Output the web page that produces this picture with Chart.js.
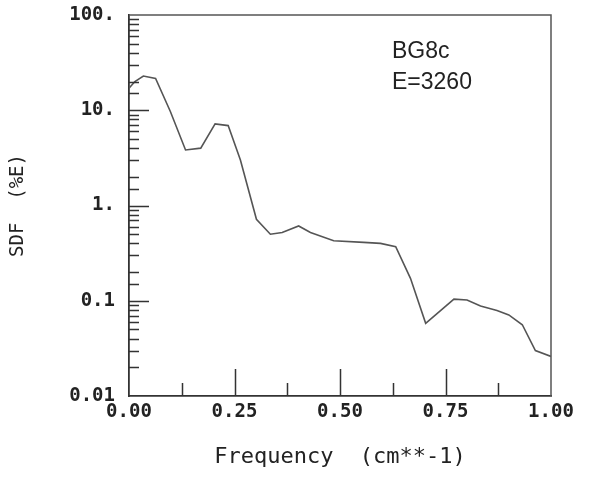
<!DOCTYPE html>
<html lang="en">
<head>
    <meta charset="UTF-8">
    <title>SDF BG8c</title>
    <script src="https://cdn.jsdelivr.net/npm/chart.js"></script>
    <style>
        body { margin: 0; padding: 0; background: #fff; }
        canvas { display: block; }
    </style>
</head>
<body>
    <canvas id="sdfChart" width="595" height="477"></canvas>
    <script>
    // values
    const freq = [0, 0.014, 0.034, 0.063, 0.098, 0.134, 0.170, 0.204, 0.235, 0.264, 0.302, 0.335, 0.363, 0.402,
                  0.430, 0.485, 0.556, 0.596, 0.632, 0.667, 0.703, 0.770, 0.801, 0.833, 0.872, 0.900, 0.932, 0.963, 1.0];
    const sdf = [17.0, 20, 22.9, 21.6, 9.7, 3.83, 4.0, 7.2, 6.9, 3.0, 0.716, 0.50, 0.52, 0.61,
                 0.52, 0.427, 0.41, 0.40, 0.37, 0.172, 0.058, 0.104, 0.102, 0.088, 0.079, 0.071, 0.056, 0.030, 0.026];

    const xTickValues = [0, 0.25, 0.5, 0.75, 1.0];
    const xTickLabels = ["0.00", "0.25", "0.50", "0.75", "1.00"];
    const yTickValues = [0.01, 0.1, 1, 10, 100];
    const yTickLabels = ["0.01", "0.1", "1.", "10.", "100."];
    const annotation = ["BG8c", "E=3260"];

    const monoFont = "'DejaVu Sans Mono', 'Liberation Mono', monospace";
    const axisColor = "#333";

    function isDecade(v) {
        const l = Math.log10(v);
        return Math.abs(l - Math.round(l)) < 1e-6;
    }

    // box, inward tick marks and the BG8c note
    const framePlugin = {
        id: "frame",
        afterDraw(chart) {
            const ctx = chart.ctx;
            const a = chart.chartArea;
            const xs = chart.scales.x, ys = chart.scales.y;
            ctx.save();
            ctx.strokeStyle = "#555";
            ctx.lineWidth = 1.5;
            ctx.beginPath();
            ctx.moveTo(a.left, a.top);
            ctx.lineTo(a.right, a.top);
            ctx.lineTo(a.right, a.bottom);
            ctx.stroke();

            ctx.strokeStyle = axisColor;
            ctx.beginPath();
            ys.ticks.forEach(t => {
                if (t.value <= ys.min * 1.0001 || t.value >= ys.max * 0.9999) return;
                const y = Math.round(ys.getPixelForValue(t.value)) + 0.5;
                const len = isDecade(t.value) ? 20 : 10;
                ctx.moveTo(a.left, y);
                ctx.lineTo(a.left + len, y);
            });
            xs.ticks.forEach(t => {
                if (t.value <= xs.min + 1e-9 || t.value >= xs.max - 1e-9) return;
                const x = Math.round(xs.getPixelForValue(t.value)) + 0.5;
                const major = Math.abs(t.value / 0.25 - Math.round(t.value / 0.25)) < 1e-6;
                ctx.moveTo(x, a.bottom);
                ctx.lineTo(x, a.bottom - (major ? 27 : 13));
            });
            ctx.stroke();

            ctx.fillStyle = "#222";
            ctx.font = "23px 'Liberation Sans', Arial, sans-serif";
            ctx.textAlign = "left";
            ctx.textBaseline = "middle";
            ctx.fillText(annotation[0], 392, 52);
            ctx.fillText(annotation[1], 392, 83);
            ctx.restore();
        }
    };

    new Chart(document.getElementById("sdfChart").getContext("2d"), {
        type: "line",
        data: {
            datasets: [{
                data: freq.map((f, i) => ({ x: f, y: sdf[i] })),
                borderColor: "#555",
                borderWidth: 1.6,
                pointRadius: 0,
                tension: 0,
                fill: false
            }]
        },
        options: {
            responsive: false,
            animation: false,
            devicePixelRatio: 1,
            layout: { padding: { top: 15, right: 44, left: 0, bottom: 0 } },
            plugins: { legend: { display: false }, tooltip: { enabled: false } },
            scales: {
                x: {
                    type: "linear",
                    min: 0, max: 1,
                    grid: { display: false, drawTicks: false },
                    border: { display: true, color: axisColor, width: 1.8 },
                    ticks: {
                        stepSize: 0.125,
                        autoSkip: false,
                        maxRotation: 0,
                        padding: 5,
                        color: "#222",
                        font: { family: monoFont, size: 19, weight: "bold" },
                        callback: (v) => {
                            const i = xTickValues.findIndex(t => Math.abs(t - v) < 1e-6);
                            return i >= 0 ? xTickLabels[i] : "";
                        }
                    },
                    title: {
                        display: true,
                        text: "Frequency  (cm**-1)",
                        color: "#222",
                        font: { family: monoFont, size: 22 },
                        padding: { top: 0, bottom: 7 }
                    },
                    afterFit: (s) => { s.height = 81; s.paddingLeft = 0; s.paddingRight = 0; }
                },
                y: {
                    type: "logarithmic",
                    min: 0.01, max: 100,
                    grid: { display: false, drawTicks: false },
                    border: { display: true, color: axisColor, width: 1.8 },
                    ticks: {
                        autoSkip: false,
                        padding: 14,
                        color: "#222",
                        font: { family: monoFont, size: 19, weight: "bold" },
                        callback: (v) => {
                            const i = yTickValues.findIndex(t => Math.abs(Math.log10(t) - Math.log10(v)) < 1e-6);
                            return i >= 0 ? yTickLabels[i] : "";
                        }
                    },
                    title: {
                        display: true,
                        text: "SDF  (%E)",
                        color: "#222",
                        font: { family: monoFont, size: 19 },
                        padding: { top: 7, bottom: 0 }
                    },
                    afterFit: (s) => { s.width = 129; s.paddingTop = 0; s.paddingBottom = 0; }
                }
            }
        },
        plugins: [framePlugin]
    });
    </script>
</body>
</html>
